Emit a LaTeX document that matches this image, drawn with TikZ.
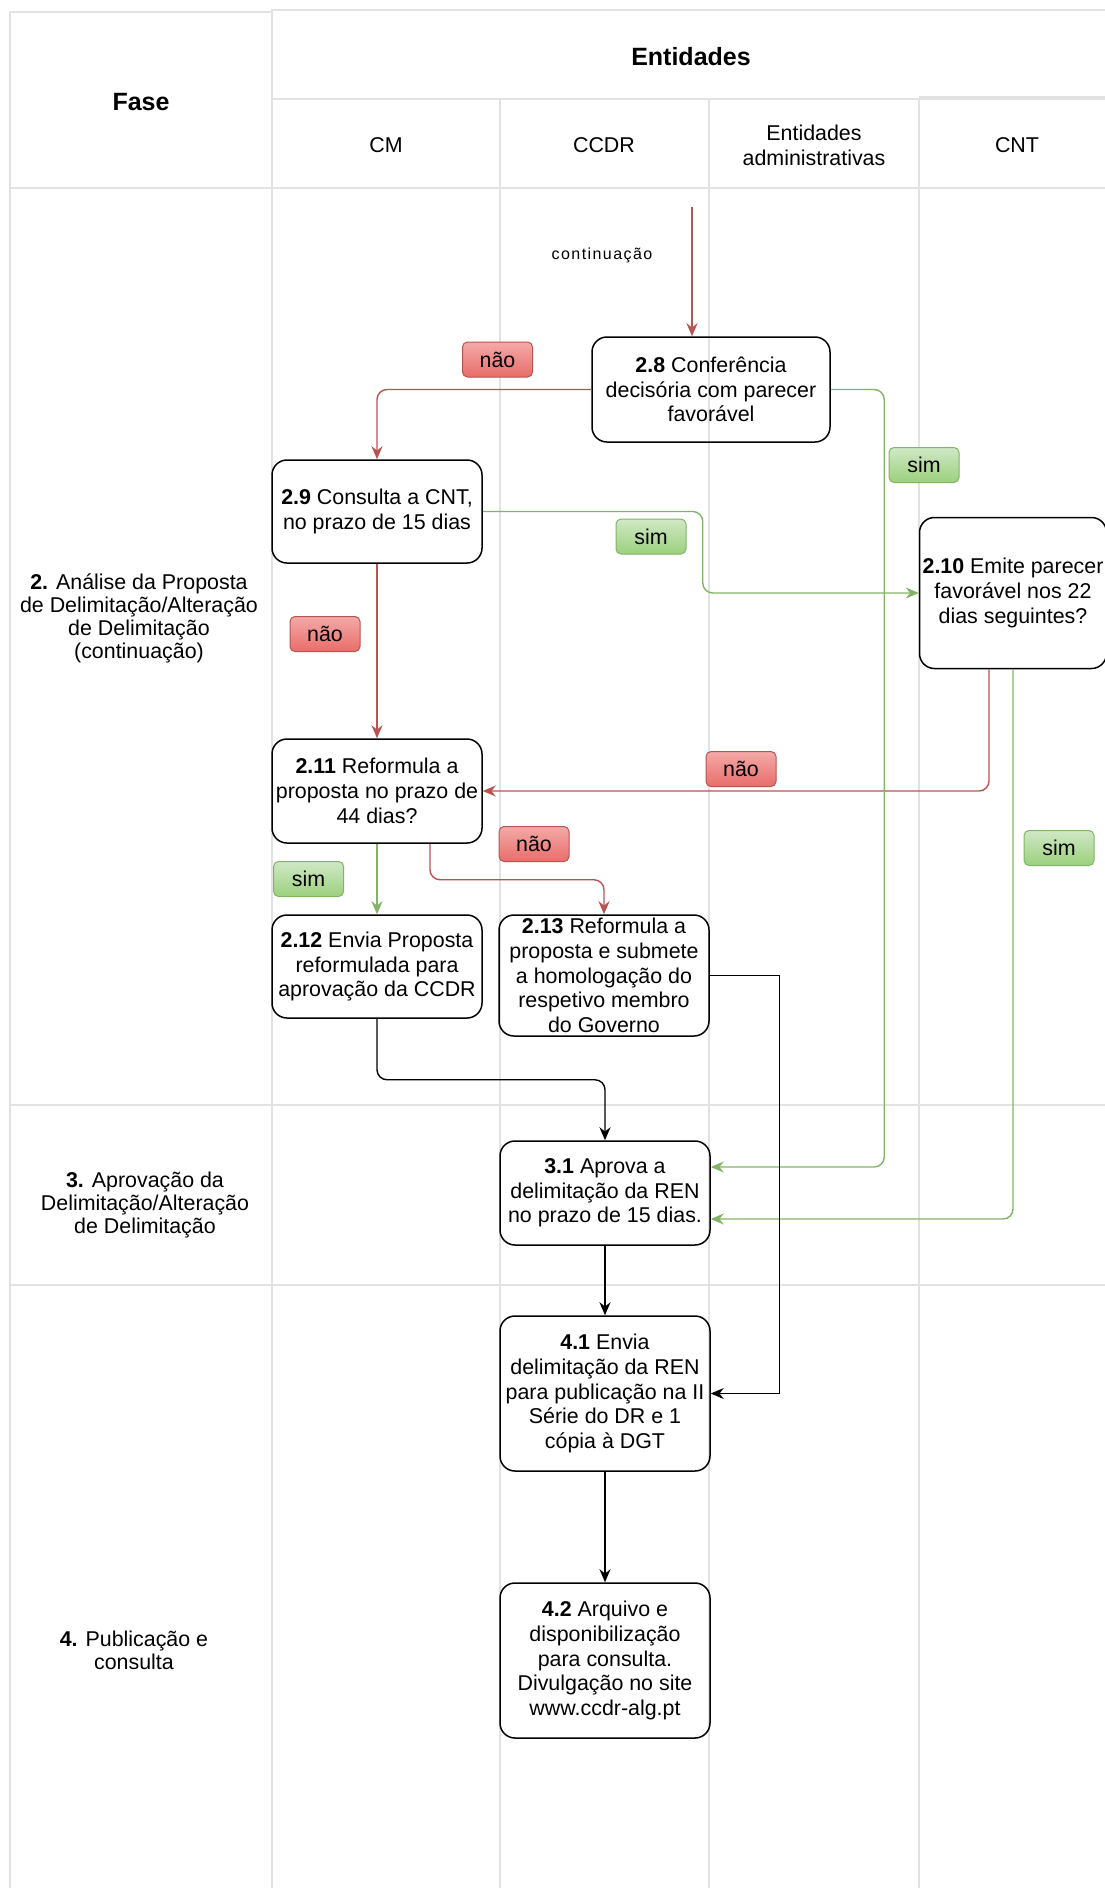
\documentclass[tikz,border=0pt]{standalone}
\usepackage{fontspec}
\setmainfont{Liberation Sans}
\newfontfamily\spacedfont[LetterSpace=9]{Liberation Sans}
\usetikzlibrary{positioning,arrows.meta}

\definecolor{naoline}{HTML}{B85450}
\definecolor{naotop}{HTML}{F4AAA8}
\definecolor{naobot}{HTML}{E86D6A}
\definecolor{simline}{HTML}{82B366}
\definecolor{simtop}{HTML}{D0E8C6}
\definecolor{simbot}{HTML}{9BD07C}
\definecolor{laneline}{HTML}{E2E2E2}

\begin{document}
\begin{tikzpicture}[x=1pt, y=-1pt, font=\fontsize{21.4}{24.7}\selectfont,
    procnode/.style={rectangle, rounded corners=15pt, draw=black, line width=1.5pt, align=center, inner sep=0pt, minimum width=210pt, minimum height=104pt},
    naolabel/.style={rectangle, rounded corners=5pt, draw=naoline, line width=1pt, top color=naotop, bottom color=naobot, minimum width=70pt, minimum height=35pt, inner sep=0pt},
    simlabel/.style={rectangle, rounded corners=5pt, draw=simline, line width=1pt, top color=simtop, bottom color=simbot, minimum width=70pt, minimum height=35pt, inner sep=0pt},
    lane/.style={draw=laneline, line width=1.5pt},
    hdr/.style={font=\bfseries\fontsize{25}{28}\selectfont},
    phase/.style={align=center, font=\fontsize{21.4}{23}\selectfont},
    naoarrow/.style={draw=naoline, line width=1.4pt, rounded corners=10pt, -{Stealth[length=13pt, width=11pt]}},
    simarrow/.style={draw=simline, line width=1.4pt, rounded corners=10pt, -{Stealth[length=13pt, width=11pt]}},
    flowarrow/.style={draw=black, line width=1.4pt, -{Stealth[length=13pt, width=11pt]}}]
    \useasboundingbox (0,0) rectangle (1105,1888);
    \clip (0,0) rectangle (1105,1888);
    % Lanes
    \draw[lane] (10,12) rectangle (272,188);
    \draw[lane] (272,10) rectangle (1120,99);
    \draw[lane] (272,99) -- (919,99);
    \draw[lane] (919,97) -- (1120,97);
    \foreach \lx in {272,500,709,919}
      \draw[lane] (\lx,99) -- (\lx,1900);
    \draw[lane] (10,188) -- (10,1900);
    \foreach \ly in {188,1105,1285}
      \draw[lane] (10,\ly) -- (1120,\ly);
    % Headers
    \node[hdr] (fase)      at (141,102) {Fase};
    \node[hdr] (entidades) at (691,57)  {Entidades};
    \node (cm)   at (386,145)  {CM};
    \node (ccdr) at (604,145)  {CCDR};
    \node[align=center, font=\fontsize{21.4}{25}\selectfont] (entadm) at (814,145) {Entidades\\administrativas};
    \node (cnt)  at (1017,145) {CNT};
    % Phases
    \node[phase] (fase2) at (139,618)  {\textbf{2.} Análise da Proposta\\de Delimitação/Alteração\\de Delimitação\\(continuação)};
    \node[phase] (fase3) at (145,1205) {\textbf{3.} Aprovação da\\Delimitação/Alteração\\de Delimitação};
    \node[phase] (fase4) at (134,1650) {\textbf{4.} Publicação e\\consulta};
    % Place nodes
    \node[procnode, minimum width=238pt, minimum height=105pt] (n28) at (711,389.5) {\textbf{2.8} Conferência\\decisória com parecer\\favorável};
    \node[procnode, minimum height=103pt] (n29) at (377,511.5) {\textbf{2.9} Consulta a CNT,\\no prazo de 15 dias};
    \node[procnode, minimum width=187pt, minimum height=151pt] (n210) at (1013,593) {\textbf{2.10} Emite parecer\\favorável nos 22\\dias seguintes?};
    \node[procnode] (n211) at (377,791) {\textbf{2.11} Reformula a\\proposta no prazo de\\44 dias?};
    \node[procnode, minimum height=103pt] (n212) [below of = n211, node distance=175.5pt] {\textbf{2.12} Envia Proposta\\reformulada para\\aprovação da CCDR};
    \node[procnode, minimum height=121pt] (n213) at (604,975.5) {\textbf{2.13} Reformula a\\proposta e submete\\a homologação do\\respetivo membro\\do Governo};
    \node[procnode] (n31) at (605,1193) {\textbf{3.1} Aprova a\\delimitação da REN\\no prazo de 15 dias.};
    \node[procnode, minimum height=155pt] (n41) [below of = n31, node distance=200.5pt] {\textbf{4.1} Envia\\delimitação da REN\\para publicação na II\\Série do DR e 1\\cópia à DGT};
    \node[procnode, minimum height=155pt] (n42) [below of = n41, node distance=267pt] {\textbf{4.2} Arquivo e\\disponibilização\\para consulta.\\Divulgação no site\\www.ccdr-alg.pt};
    % Labels
    \node[naolabel] (nao1) at (497.5,359.5) {não};
    \node[naolabel] (nao2) at (325,634)     {não};
    \node[naolabel] (nao3) at (741,769)     {não};
    \node[naolabel] (nao4) at (534,844)     {não};
    \node[simlabel] (sim1) at (924,465)     {sim};
    \node[simlabel] (sim2) at (651,536.5)   {sim};
    \node[simlabel] (sim3) at (1059,848)    {sim};
    \node[simlabel] (sim4) at (308.6,879)   {sim};
    \coordinate (contstart) at (692,207);
    \node[font=\spacedfont\fontsize{16}{19}\selectfont] (conttext) at (602,255) {continuação};
    % Create edges
    % Red
      \draw[naoarrow] (contstart) -- (contstart |- n28.north);
      \draw[naoarrow] (n28.west) -| (n29.north);
      \draw[naoarrow] (n29.south) -- (n211.north);
      \draw[naoarrow] ([xshift=-24pt]n210.south) |- (n211.east);
      \draw[naoarrow] ([xshift=53pt]n211.south) -- ++(0,36) -| (n213.north);
    % Green
      \draw[simarrow] (n28.east) -- ++(53.5,0) |- ([yshift=26pt]n31.east);
      \draw[simarrow] (n29.east) -- ++(220,0) |- (n210.west);
      \draw[simarrow] (n210.south) |- ([yshift=-26pt]n31.east);
      \draw[simarrow] (n211.south) -- (n212.north);
    % Black
      \draw[flowarrow, rounded corners=10pt] (n212.south) -- ++(0,61) -| (n31.north);
      \draw[flowarrow] (n213.east) -- ++(70,0) |- (n41.east);
      \draw[flowarrow] (n31.south) -- (n41.north);
      \draw[flowarrow] (n41.south) -- (n42.north);
\end{tikzpicture}
\end{document}
